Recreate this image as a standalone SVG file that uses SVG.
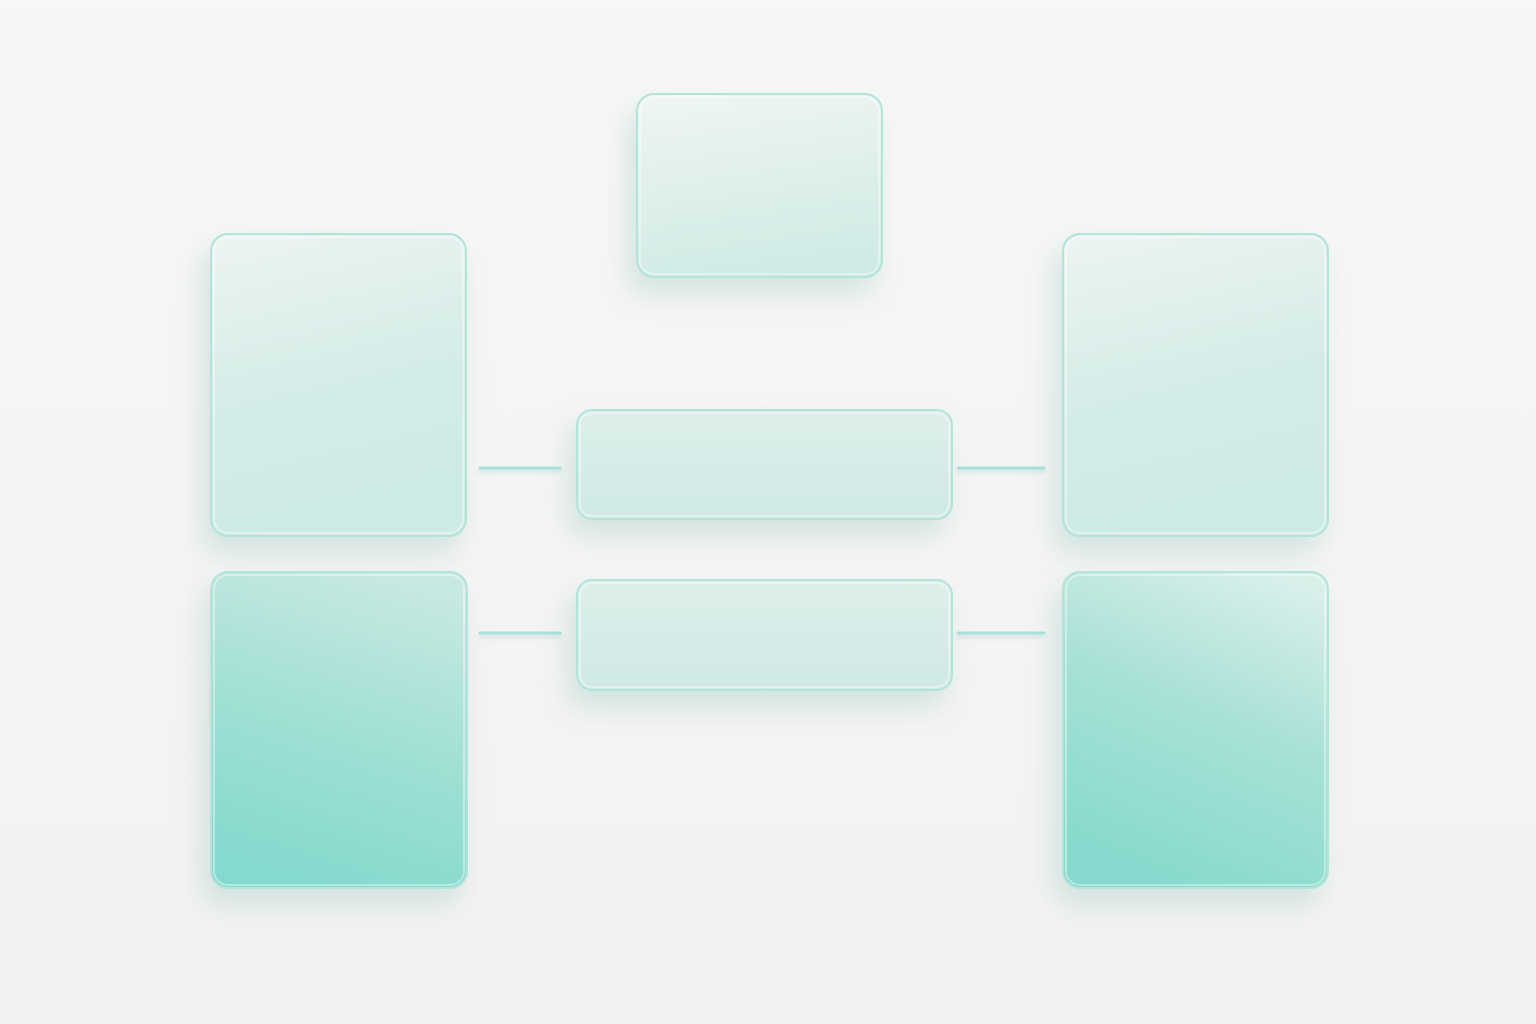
<svg xmlns="http://www.w3.org/2000/svg" width="1536" height="1024" viewBox="0 0 1536 1024">
<defs>
<linearGradient id="bg" x1="0" y1="0" x2="0" y2="1"><stop offset="0" stop-color="#f7f7f6"/><stop offset="1" stop-color="#f2f2f1"/></linearGradient>
<linearGradient id="gLight" x1="0.3" y1="0" x2="0.5" y2="1"><stop offset="0" stop-color="#eef5f3"/><stop offset="1" stop-color="#cfeae4"/></linearGradient>
<linearGradient id="gTall" x1="0.2" y1="0" x2="0.4" y2="1"><stop offset="0" stop-color="#ebf4f2"/><stop offset="0.55" stop-color="#d4ece7"/><stop offset="1" stop-color="#cdeae4"/></linearGradient>
<linearGradient id="gBar" x1="0" y1="0" x2="0" y2="1"><stop offset="0" stop-color="#ddefeb"/><stop offset="1" stop-color="#d0e9e4"/></linearGradient>
<linearGradient id="gDeep" x1="0.7" y1="0" x2="0.45" y2="1"><stop offset="0" stop-color="#c8e9e2"/><stop offset="0.5" stop-color="#a2e0d5"/><stop offset="1" stop-color="#84dacd"/></linearGradient>
<linearGradient id="gDeepR" x1="0.75" y1="0" x2="0.4" y2="1"><stop offset="0" stop-color="#d8efea"/><stop offset="0.45" stop-color="#a9e1d7"/><stop offset="1" stop-color="#86dacd"/></linearGradient>
<filter id="sh" x="-30%" y="-40%" width="160%" height="200%">
<feGaussianBlur in="SourceAlpha" stdDeviation="14"/>
<feOffset dx="-8" dy="16" result="b"/>
<feFlood flood-color="#82bcb3" flood-opacity="0.3"/>
<feComposite in2="b" operator="in"/>
<feMerge><feMergeNode/><feMergeNode in="SourceGraphic"/></feMerge>
</filter>
<filter id="lsh" x="-10%" y="-300%" width="120%" height="700%">
<feGaussianBlur in="SourceAlpha" stdDeviation="2"/>
<feOffset dy="3" result="b"/>
<feFlood flood-color="#9cc9c1" flood-opacity="0.45"/>
<feComposite in2="b" operator="in"/>
<feMerge><feMergeNode/><feMergeNode in="SourceGraphic"/></feMerge>
</filter>
</defs>
<style>
.card{stroke:#b2e4da;stroke-width:2}
.edge{fill:none;stroke:#ffffff;stroke-opacity:0.4;stroke-width:2}
.conn{stroke:#a9e2d8;stroke-width:3;stroke-linecap:round}
</style>
<rect width="1536" height="1024" fill="url(#bg)"/>
<g id="connectors" filter="url(#lsh)">
<line class="conn" x1="480" y1="468" x2="560" y2="468"/>
<line class="conn" x1="958" y1="468" x2="1044" y2="468"/>
<line class="conn" x1="480" y1="633" x2="560" y2="633"/>
<line class="conn" x1="958" y1="633" x2="1044" y2="633"/>
</g>
<g id="top" filter="url(#sh)">
<rect class="card" x="637" y="94" width="245" height="183" rx="17" fill="url(#gLight)"/>
<rect class="edge" x="640" y="97" width="239" height="177" rx="14"/>
</g>
<g id="leftTop" filter="url(#sh)">
<rect class="card" x="211" y="234" width="255" height="302" rx="17" fill="url(#gTall)"/>
<rect class="edge" x="214" y="237" width="249" height="296" rx="14"/>
</g>
<g id="rightTop" filter="url(#sh)">
<rect class="card" x="1063" y="234" width="265" height="302" rx="17" fill="url(#gTall)"/>
<rect class="edge" x="1066" y="237" width="259" height="296" rx="14"/>
</g>
<g id="midTop" filter="url(#sh)">
<rect class="card" x="577" y="410" width="375" height="109" rx="15" fill="url(#gBar)"/>
<rect class="edge" x="580" y="413" width="369" height="103" rx="12"/>
</g>
<g id="midBottom" filter="url(#sh)">
<rect class="card" x="577" y="580" width="375" height="110" rx="15" fill="url(#gBar)"/>
<rect class="edge" x="580" y="583" width="369" height="104" rx="12"/>
</g>
<g id="leftBottom" filter="url(#sh)">
<rect class="card" x="211" y="572" width="256" height="316" rx="17" fill="url(#gDeep)" stroke="#98dcd0"/>
<rect class="edge" x="214" y="575" width="250" height="310" rx="14"/>
</g>
<g id="rightBottom" filter="url(#sh)">
<rect class="card" x="1063" y="572" width="265" height="316" rx="17" fill="url(#gDeepR)" stroke="#98dcd0"/>
<rect class="edge" x="1066" y="575" width="259" height="310" rx="14"/>
</g>
</svg>
